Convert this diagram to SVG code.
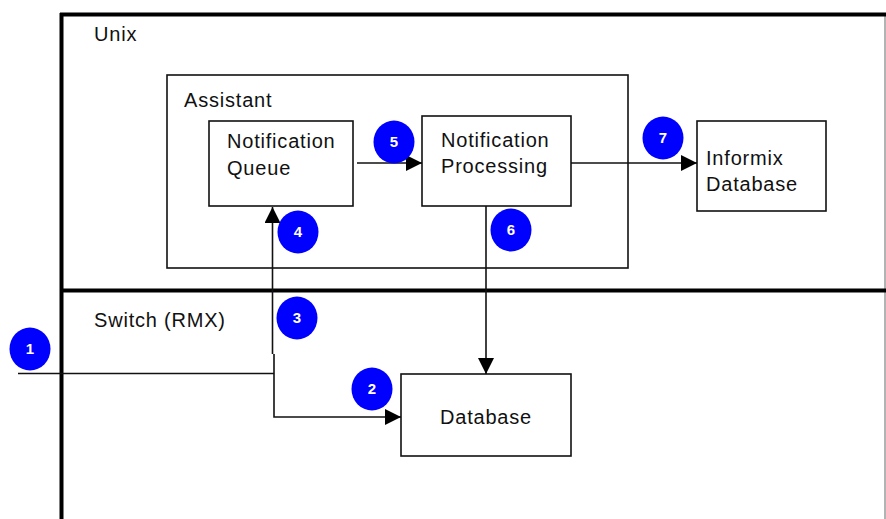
<svg xmlns="http://www.w3.org/2000/svg" width="886" height="519" viewBox="0 0 886 519">
<style>
.box{fill:#fff;stroke:#111;stroke-width:1.6}
.lbl{font-family:"Liberation Sans",Arial,sans-serif;font-size:20px;letter-spacing:0.8px;fill:#111}
.ln{fill:none;stroke:#111;stroke-width:1.6}
.badge{fill:#0000ff}
.num{font-family:"Liberation Sans",Arial,sans-serif;font-size:15px;font-weight:bold;fill:#fff;text-anchor:middle}
</style>
<defs>
<marker id="ah" viewBox="0 0 16 16" refX="16" refY="8" markerWidth="16" markerHeight="16" markerUnits="userSpaceOnUse" orient="auto">
<path d="M0,0 L16,8 L0,16 Z" fill="#000"/>
</marker>
</defs>
<rect width="886" height="519" fill="#fff"/>
<g id="frames">
<line x1="885" y1="14" x2="885" y2="519" stroke="#9a9a9a" stroke-width="1.5"/>
<line x1="60" y1="14.5" x2="886" y2="14.5" stroke="#000" stroke-width="4"/>
<line x1="61.5" y1="13" x2="61.5" y2="519" stroke="#000" stroke-width="4"/>
<line x1="60" y1="290.5" x2="886" y2="290.5" stroke="#000" stroke-width="4"/>
<text class="lbl" x="94" y="41">Unix</text>
<text class="lbl" x="94" y="327">Switch (RMX)</text>
</g>
<g id="assistant">
<rect class="box" x="167" y="75" width="461" height="193" fill="none" style="fill:none"/>
<text class="lbl" x="184" y="107">Assistant</text>
</g>
<g id="queue">
<rect class="box" x="209" y="121" width="144" height="85"/>
<text class="lbl" x="227" y="148">Notification</text>
<text class="lbl" x="227" y="175">Queue</text>
</g>
<g id="processing">
<rect class="box" x="422" y="116" width="149" height="90"/>
<text class="lbl" x="441" y="147">Notification</text>
<text class="lbl" x="441" y="173">Processing</text>
</g>
<g id="informix">
<rect class="box" x="697" y="121" width="129" height="90"/>
<text class="lbl" x="706" y="165">Informix</text>
<text class="lbl" x="706" y="191">Database</text>
</g>
<g id="database">
<rect class="box" x="401" y="374" width="170" height="82"/>
<text class="lbl" x="440" y="424">Database</text>
</g>
<g id="connectors">
<line class="ln" x1="357" y1="163" x2="422" y2="163" marker-end="url(#ah)"/>
<line class="ln" x1="571" y1="163" x2="697" y2="163" marker-end="url(#ah)"/>
<line class="ln" x1="486" y1="206" x2="486" y2="374" marker-end="url(#ah)"/>
<line class="ln" x1="18" y1="373.5" x2="274" y2="373.5"/>
<line class="ln" x1="272.5" y1="354" x2="272.5" y2="207" marker-end="url(#ah)"/>
<path class="ln" d="M274,354 V417 H401" marker-end="url(#ah)"/>
</g>
<g id="badges">
<ellipse class="badge" cx="30" cy="349" rx="20.5" ry="21.5"/><text class="num" x="30" y="354">1</text>
<ellipse class="badge" cx="372" cy="389" rx="20.5" ry="21.5"/><text class="num" x="372" y="394">2</text>
<ellipse class="badge" cx="297" cy="318" rx="20.5" ry="21.5"/><text class="num" x="297" y="323">3</text>
<ellipse class="badge" cx="298" cy="232" rx="20.5" ry="21.5"/><text class="num" x="298" y="237">4</text>
<ellipse class="badge" cx="394" cy="142" rx="20.5" ry="21.5"/><text class="num" x="394" y="147">5</text>
<ellipse class="badge" cx="511" cy="230" rx="20.5" ry="21.5"/><text class="num" x="511" y="235">6</text>
<ellipse class="badge" cx="663" cy="138" rx="20.5" ry="21.5"/><text class="num" x="663" y="143">7</text>
</g>
</svg>
